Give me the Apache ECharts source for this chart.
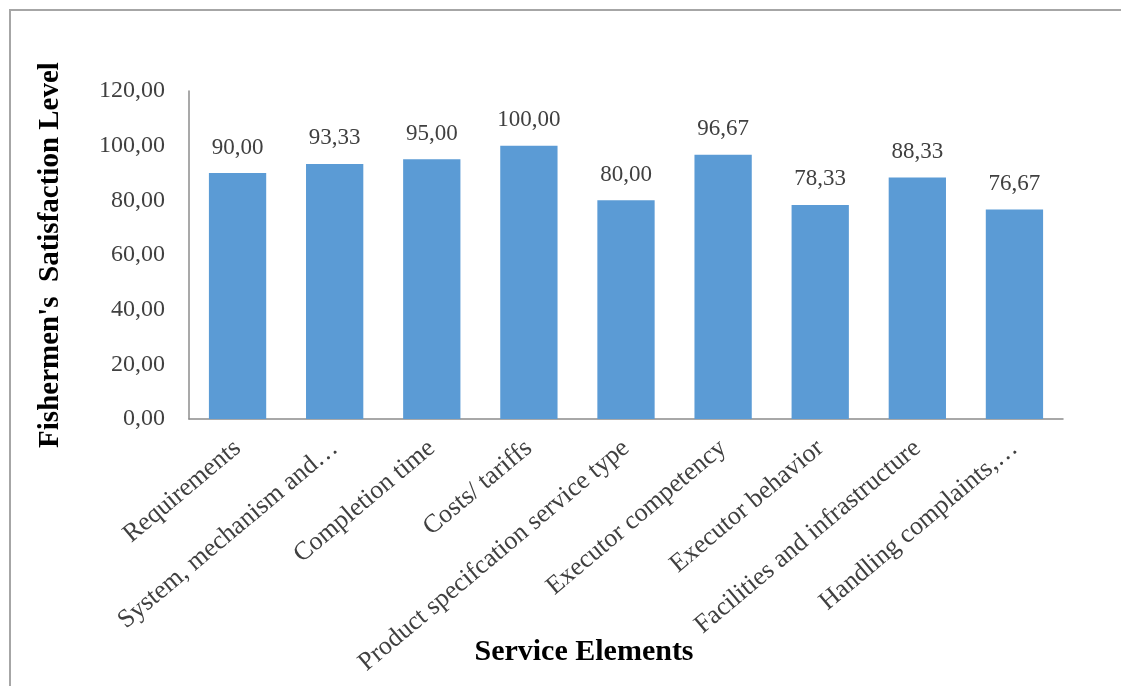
<!DOCTYPE html>
<html>
<head>
<meta charset="utf-8">
<script src="https://cdn.jsdelivr.net/npm/echarts@6/dist/echarts.min.js"></script>
<style>
html,body{margin:0;padding:0;background:#fff;}
#chart{width:1121px;height:686px;}
</style>
</head>
<body>
<div id="chart"></div>
<script>
const categories = [
  'Requirements',
  'System, mechanism and…',
  'Completion time',
  'Costs/ tariffs',
  'Product specifcation service type',
  'Executor competency',
  'Executor behavior',
  'Facilities and infrastructure',
  'Handling complaints,…'
];
const satisfaction = [90.00, 93.33, 95.00, 100.00, 80.00, 96.67, 78.33, 88.33, 76.67];
const yTicks = [0, 20, 40, 60, 80, 100, 120];

const fmt = v => Number(v).toFixed(2).replace('.', ',');
const serif = '"Liberation Serif", "DejaVu Serif", serif';

const chart = echarts.init(document.getElementById('chart'));
chart.setOption({
  animation: false,
  backgroundColor: '#ffffff',
  graphic: [{
    type: 'rect',
    shape: { x: 10, y: 10, width: 1300, height: 900 },
    style: { fill: null, stroke: '#A6A6A6', lineWidth: 2 },
    silent: true
  }],
  grid: { left: 189, right: 58, top: 91, bottom: 267, containLabel: false, outerBoundsMode: 'none' },
  xAxis: {
    type: 'category',
    data: categories,
    name: 'Service Elements',
    nameLocation: 'middle',
    nameGap: 218,
    nameMoveOverlap: false,
    nameTextStyle: { fontFamily: serif, fontWeight: 'bold', fontSize: 30, color: '#000', padding: [0, 84, 0, 0] },
    axisLine: { lineStyle: { color: '#8C8C8C', width: 1.5 } },
    axisTick: { show: false },
    axisLabel: {
      interval: 0,
      rotate: 40,
      margin: 26,
      fontFamily: serif,
      fontSize: 26,
      color: '#404040'
    }
  },
  yAxis: {
    type: 'value',
    min: 0,
    max: 120,
    interval: 20,
    name: "Fishermen's  Satisfaction Level",
    nameLocation: 'middle',
    nameGap: 124,
    nameMoveOverlap: false,
    nameTextStyle: { fontFamily: serif, fontWeight: 'bold', fontSize: 29, color: '#000' },
    axisLine: { show: true, lineStyle: { color: '#8C8C8C', width: 1.5 } },
    axisTick: { show: false },
    splitLine: { show: false },
    axisLabel: {
      margin: 24,
      fontFamily: serif,
      fontSize: 24,
      color: '#404040',
      formatter: v => yTicks.includes(v) ? fmt(v) : ''
    }
  },
  series: [{
    type: 'bar',
    data: satisfaction,
    barWidth: '59%',
    itemStyle: { color: '#5B9BD5' },
    label: {
      show: true,
      position: 'top',
      distance: 14,
      fontFamily: serif,
      fontSize: 23,
      color: '#404040',
      formatter: p => fmt(p.value)
    }
  }]
});
</script>
</body>
</html>
